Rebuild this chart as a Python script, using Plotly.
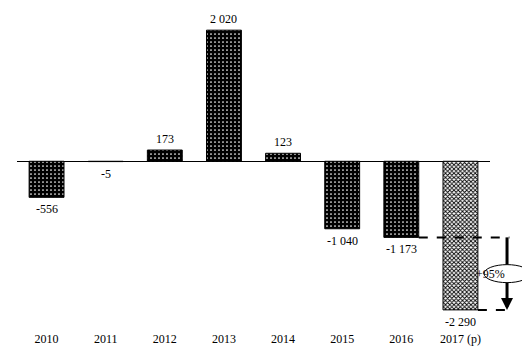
import plotly.graph_objects as go

categories = ["2010", "2011", "2012", "2013", "2014", "2015", "2016", "2017 (p)"]
values = [-556, -5, 173, 2020, 123, -1040, -1173, -2290]
value_labels = ["-556", "-5", "173", "2 020", "123", "-1 040", "-1 173", "-2 290"]
change_label = "+95%"

FONT = "Liberation Serif"
n = len(categories)
bar_w = 0.59

fig = go.Figure()
fig.add_trace(go.Bar(
    x=categories[:-1], y=values[:-1], width=bar_w,
    marker=dict(color="black", line=dict(color="black", width=1),
                pattern=dict(shape=".", fgcolor="white", bgcolor="black",
                             size=4, solidity=0.15, fillmode="replace")),
    showlegend=False,
))
fig.add_trace(go.Bar(
    x=categories[-1:], y=values[-1:], width=bar_w,
    marker=dict(color="white", line=dict(color="black", width=1),
                pattern=dict(shape="x", fgcolor="black", bgcolor="white",
                             size=3, solidity=0.5, fillmode="replace")),
    showlegend=False,
))

# value labels (x given as category index)
for i, (v, t) in enumerate(zip(values, value_labels)):
    fig.add_annotation(x=i, y=v, text=t, showarrow=False,
                       yshift=11 if v > 0 else -12,
                       font=dict(family=FONT, size=12, color="black"))

def paper_x(idx, off):
    return (idx + 0.5 + off) / n

xa = 1.036
y16 = values[-2]
y17 = values[-1]
ymid = (y16 + y17) / 2
gap = 140  # half-height of the label ellipse, in data units
# dashed reference lines
fig.add_shape(type="line", xref="paper", yref="y",
              x0=paper_x(6, bar_w / 2), x1=xa + 0.005, y0=y16, y1=y16,
              line=dict(color="black", width=2, dash="dash"))
fig.add_shape(type="line", xref="paper", yref="y",
              x0=paper_x(7, bar_w / 2), x1=xa + 0.005, y0=y17, y1=y17,
              line=dict(color="black", width=2, dash="dash"))
# vertical arrow shaft, interrupted by the label
fig.add_shape(type="line", xref="paper", yref="y",
              x0=xa, x1=xa, y0=y16, y1=ymid + gap,
              line=dict(color="black", width=3))
fig.add_shape(type="line", xref="paper", yref="y",
              x0=xa, x1=xa, y0=ymid - gap, y1=y17 + 80,
              line=dict(color="black", width=3))
# arrow head
fig.add_annotation(xref="paper", yref="y", x=xa, y=y17, ax=0, ay=-12,
                   text="", showarrow=True, arrowhead=2,
                   arrowwidth=3, arrowsize=0.8, arrowcolor="black")
# ellipse label
fig.add_shape(type="circle", xref="paper", yref="y", xsizemode="pixel", ysizemode="pixel",
              xanchor=xa, yanchor=ymid, x0=-23, x1=23, y0=-9, y1=9,
              fillcolor="white", line=dict(color="black", width=1))
fig.add_annotation(xref="paper", yref="y", x=xa, y=ymid, text=change_label,
                   showarrow=False, font=dict(family=FONT, size=12, color="black"))

fig.update_layout(
    width=522, height=352,
    margin=dict(l=9, r=40, t=4, b=30),
    paper_bgcolor="white", plot_bgcolor="white",
    bargap=0.41,
    font=dict(family=FONT, size=12, color="black"),
    xaxis=dict(type="category", categoryorder="array", categoryarray=categories,
               range=[-0.5, n - 0.5], showline=False, showgrid=False, ticks="",
               tickfont=dict(size=12)),
    yaxis=dict(range=[-2600, 2300], showgrid=False, showticklabels=False,
               zeroline=True, zerolinecolor="black", zerolinewidth=1),
)
fig.write_html("out.html")
